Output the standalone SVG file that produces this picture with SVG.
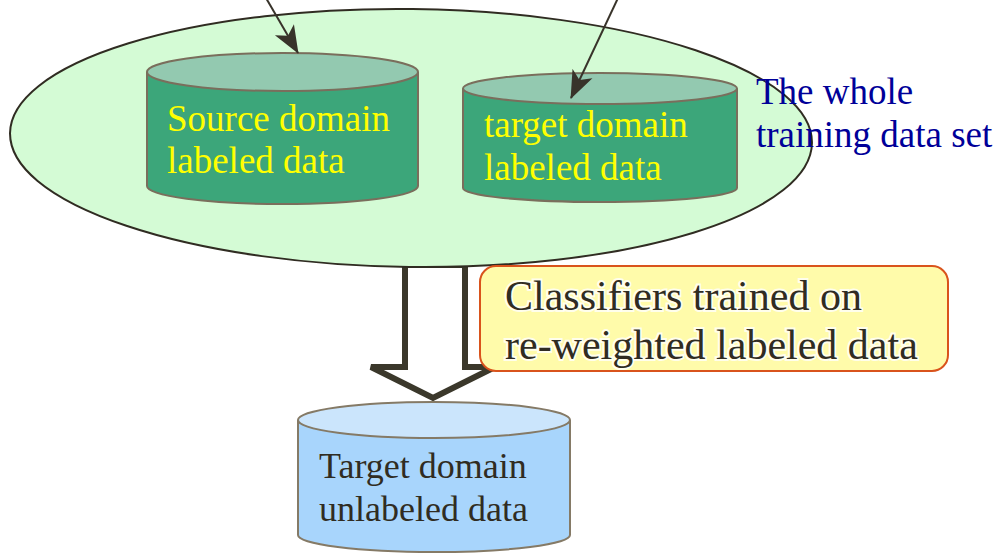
<svg xmlns="http://www.w3.org/2000/svg" width="1000" height="554" viewBox="0 0 1000 554">
  <defs>
    <style>
      .serif { font-family: "Liberation Serif", "Times New Roman", serif; }
      .cyl-green-body { fill: #3ca67a; stroke: #7a6e5c; stroke-width: 2; }
      .cyl-green-top { fill: #93c9b0; stroke: #7a6e5c; stroke-width: 2; }
      .cyl-blue-body { fill: #a8d5fc; stroke: #857a66; stroke-width: 2; }
      .cyl-blue-top { fill: #cbe5fc; stroke: #857a66; stroke-width: 2; }
      .ylw { fill: #ffff00; font-size: 37px; }
      .blue { fill: #000099; font-size: 37px; }
      .dark { fill: #302c22; }
      .conn { stroke: #38332a; stroke-width: 2; fill: none; }
    </style>
    <marker id="stealth" markerUnits="userSpaceOnUse" viewBox="0 0 28 24" markerWidth="28" markerHeight="24" refX="27" refY="12" orient="auto">
      <path d="M0,1 L28,12 L0,23 L7,12 Z" fill="#38332a"/>
    </marker>
  </defs>

  <rect x="0" y="0" width="1000" height="554" fill="#ffffff"/>

  <g id="flow-arrow">
    <path d="M405,265 H465 V367 H495 L433,398 L371,367 H405 Z" fill="#ffffff" stroke="#3b382b" stroke-width="6" stroke-linejoin="miter"/>
  </g>

  <g id="training-set">
    <ellipse cx="411" cy="138" rx="401" ry="129" transform="rotate(0.7 411 138)" fill="#d4fbd5" stroke="#302c22" stroke-width="2"/>
  </g>

  <g id="source-labeled">
    <path class="cyl-green-body" d="M147,72 V186 A135.5,18 0 0 0 418,186 V72"/>
    <ellipse class="cyl-green-top" cx="282.5" cy="72" rx="135.5" ry="19"/>
    <text class="serif ylw" x="167" y="131">Source domain</text>
    <text class="serif ylw" x="167" y="173">labeled data</text>
  </g>

  <g id="target-labeled">
    <path class="cyl-green-body" d="M463,88.5 V188 A137,14 0 0 0 737,188 V88.5"/>
    <ellipse class="cyl-green-top" cx="600" cy="88.5" rx="137" ry="15.5"/>
    <text class="serif ylw" x="484" y="137">target domain</text>
    <text class="serif ylw" x="484" y="180">labeled data</text>
  </g>

  <g id="whole-label">
    <text class="serif blue" x="756" y="104">The whole</text>
    <text class="serif blue" x="756" y="147">training data set</text>
  </g>

  <g id="classifier-note">
    <rect x="480" y="266" width="468" height="105" rx="16" ry="16" fill="#fffbaa" stroke="#d9531c" stroke-width="2"/>
    <text class="serif dark" x="505" y="310" font-size="42" stroke="#ffffff" stroke-opacity="0.8" stroke-width="4" paint-order="stroke">Classifiers trained on</text>
    <text class="serif dark" x="505" y="359" font-size="42" stroke="#ffffff" stroke-opacity="0.8" stroke-width="4" paint-order="stroke">re-weighted labeled data</text>
  </g>

  <g id="target-unlabeled">
    <path class="cyl-blue-body" d="M298,420 V535 A136,17 0 0 0 570,535 V420"/>
    <ellipse class="cyl-blue-top" cx="434" cy="420" rx="136" ry="18"/>
    <text class="serif dark" x="319" y="478" font-size="36">Target domain</text>
    <text class="serif dark" x="319" y="521" font-size="36">unlabeled data</text>
  </g>

  <g id="connectors">
    <line class="conn" x1="266" y1="-2" x2="298" y2="53" marker-end="url(#stealth)"/>
    <line class="conn" x1="618" y1="-2" x2="571" y2="98" marker-end="url(#stealth)"/>
  </g>
</svg>
